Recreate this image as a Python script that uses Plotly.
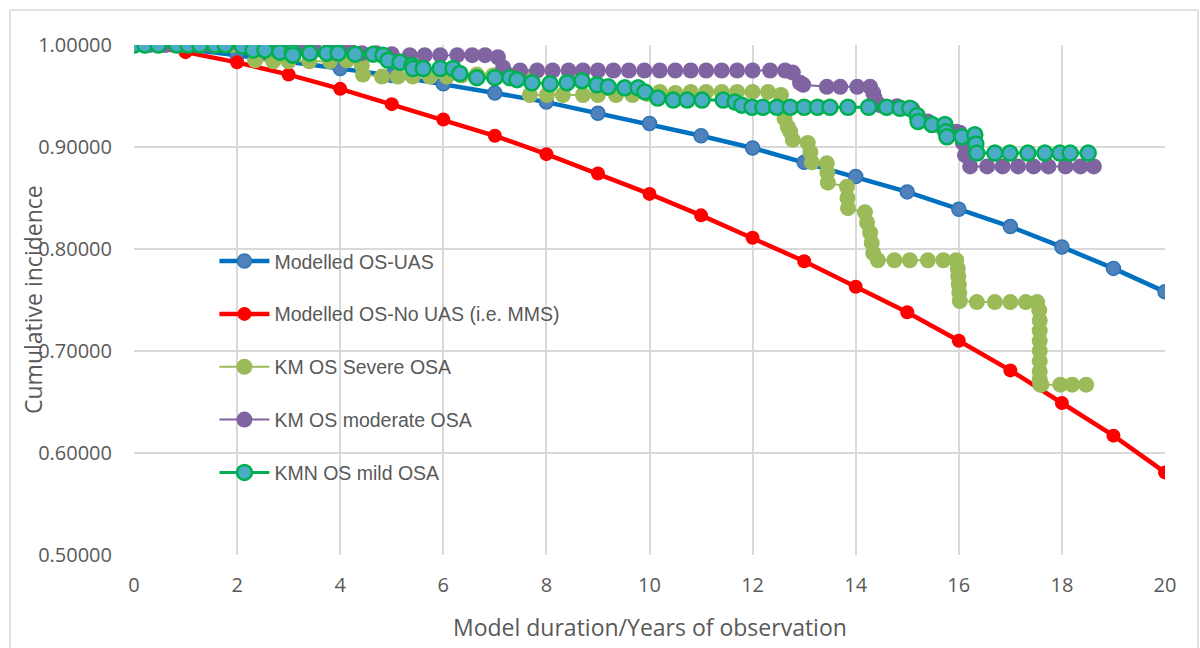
import plotly.graph_objects as go

# ---------------- data ----------------
model_years = list(range(0, 21))
os_uas = [1.0, 0.996, 0.990, 0.984, 0.977, 0.970, 0.962, 0.953, 0.944, 0.933, 0.923,
          0.911, 0.899, 0.885, 0.871, 0.856, 0.839, 0.822, 0.802, 0.781, 0.758]
os_no_uas = [1.0, 0.993, 0.983, 0.971, 0.957, 0.942, 0.927, 0.911, 0.893, 0.874, 0.854,
             0.833, 0.811, 0.788, 0.763, 0.738, 0.710, 0.681, 0.649, 0.617, 0.581]

severe_x = [0, 0.2, 0.5, 0.8, 1.0, 1.3, 1.6, 1.9, 2.25, 2.35, 2.7, 3.0, 3.4, 3.8, 4.13, 4.42,
            4.44, 4.81, 5.12, 5.41, 5.74, 6.07, 6.35, 6.65, 6.96, 7.3, 7.6, 7.68, 8.01, 8.32,
            8.71, 9.0, 9.35, 9.67, 9.96, 10.2, 10.5, 10.8, 11.1, 11.4, 11.7, 12.0, 12.3,
            12.55, 12.62, 12.68, 12.73, 12.78, 13.07, 13.12, 13.15, 13.44, 13.45, 13.46,
            13.83, 13.84, 13.85, 14.18, 14.22, 14.28, 14.31, 14.34, 14.43, 14.75, 15.05,
            15.4, 15.7, 15.95, 15.98, 15.99, 16.0, 16.01, 16.02, 16.35, 16.7, 17.0, 17.3,
            17.52, 17.56, 17.57, 17.57, 17.57, 17.57, 17.57, 17.57, 17.57, 17.58, 17.6,
            17.97, 18.2, 18.47]
severe_y = [1.0, 1.0, 1.0, 1.0, 1.0, 1.0, 1.0, 1.0, 1.0, 0.985, 0.984, 0.984, 0.984, 0.984,
            0.985, 0.980, 0.971, 0.969, 0.969, 0.969, 0.969, 0.969, 0.970, 0.971, 0.970,
            0.970, 0.969, 0.951, 0.951, 0.951, 0.951, 0.951, 0.951, 0.951, 0.952, 0.954,
            0.953, 0.954, 0.954, 0.954, 0.954, 0.954, 0.954, 0.951, 0.928, 0.920, 0.915,
            0.907, 0.904, 0.895, 0.885, 0.884, 0.875, 0.865, 0.861, 0.850, 0.840, 0.836,
            0.826, 0.816, 0.806, 0.796, 0.789, 0.789, 0.789, 0.789, 0.789, 0.789, 0.781,
            0.773, 0.765, 0.757, 0.749, 0.748, 0.748, 0.748, 0.748, 0.748, 0.740, 0.730,
            0.720, 0.710, 0.700, 0.690, 0.680, 0.672, 0.667, 0.667, 0.667, 0.667, 0.667]

moderate_x = [0, 0.3, 0.6, 0.9, 1.2, 1.5, 1.8, 2.1, 2.4, 2.7, 3.0, 3.2, 3.5, 3.8, 4.15, 4.42,
              4.7, 5.0, 5.35, 5.64, 5.94, 6.27, 6.56, 6.81, 7.06, 7.16, 7.49, 7.82, 8.12,
              8.43, 8.71, 9.0, 9.3, 9.6, 9.9, 10.2, 10.5, 10.8, 11.1, 11.4, 11.7, 12.0,
              12.34, 12.63, 12.78, 12.92, 12.98, 13.44, 13.7, 14.03, 14.28, 14.34, 14.37,
              14.47, 14.8, 15.1, 15.4, 15.7, 15.95, 16.02, 16.08, 16.12, 16.22, 16.55,
              16.85, 17.15, 17.45, 17.74, 18.07, 18.36, 18.62]
moderate_y = [1.0, 1.0, 1.0, 1.0, 1.0, 1.0, 1.0, 1.0, 0.998, 0.998, 0.997, 0.997, 0.995,
              0.995, 1.0, 0.992, 0.992, 0.991, 0.990, 0.990, 0.990, 0.990, 0.990, 0.990,
              0.988, 0.978, 0.975, 0.975, 0.975, 0.975, 0.975, 0.975, 0.975, 0.975, 0.975,
              0.975, 0.975, 0.975, 0.975, 0.975, 0.975, 0.975, 0.975, 0.975, 0.973, 0.963,
              0.961, 0.959, 0.959, 0.959, 0.959, 0.953, 0.948, 0.941, 0.940, 0.937, 0.925,
              0.918, 0.915, 0.914, 0.904, 0.892, 0.881, 0.881, 0.881, 0.881, 0.881, 0.881,
              0.881, 0.881, 0.881]

mild_x = [0, 0.21, 0.47, 0.83, 1.05, 1.28, 1.57, 1.77, 2.1, 2.31, 2.54, 2.83, 3.07, 3.08,
          3.41, 3.74, 3.96, 4.29, 4.64, 4.83, 4.93, 5.16, 5.39, 5.41, 5.61, 5.94, 6.19,
          6.32, 6.65, 7.0, 7.29, 7.43, 7.72, 8.07, 8.4, 8.69, 8.98, 9.2, 9.52, 9.78, 9.91,
          10.16, 10.46, 10.73, 11.02, 11.43, 11.66, 11.79, 11.99, 12.2, 12.47, 12.73, 13.0,
          13.26, 13.5, 13.85, 14.25, 14.6, 14.86, 15.05, 15.19, 15.21, 15.48, 15.73, 15.75,
          15.77, 16.06, 16.31, 16.33, 16.35, 16.7, 16.99, 17.34, 17.67, 17.96, 18.16, 18.51]
mild_y = [1.0, 1.0, 1.0, 1.0, 1.0, 1.0, 1.0, 1.0, 0.999, 0.995, 0.995, 0.993, 0.993, 0.990,
          0.992, 0.992, 0.992, 0.991, 0.991, 0.990, 0.985, 0.983, 0.980, 0.977, 0.977,
          0.977, 0.977, 0.972, 0.968, 0.968, 0.968, 0.966, 0.963, 0.962, 0.963, 0.965,
          0.961, 0.959, 0.958, 0.958, 0.954, 0.948, 0.946, 0.946, 0.946, 0.946, 0.944,
          0.941, 0.939, 0.939, 0.939, 0.939, 0.939, 0.939, 0.939, 0.939, 0.939, 0.939,
          0.938, 0.938, 0.931, 0.925, 0.922, 0.922, 0.915, 0.910, 0.910, 0.912, 0.903,
          0.894, 0.894, 0.894, 0.894, 0.894, 0.894, 0.894, 0.894]

x_ticks = list(range(0, 21, 2))
y_ticks = [0.5, 0.6, 0.7, 0.8, 0.9, 1.0]

# ---------------- figure ----------------
fig = go.Figure()

fig.add_trace(go.Scatter(
    x=model_years, y=os_uas, mode="lines+markers", name="Modelled OS-UAS",
    line=dict(color="#0070C0", width=4.5),
    marker=dict(size=14, color="#4F81BD", line=dict(color="#2E75B6", width=1.5)),
    legendgroup="a"))
fig.add_trace(go.Scatter(
    x=model_years, y=os_no_uas, mode="lines+markers", name="Modelled OS-No UAS (i.e. MMS)",
    line=dict(color="#FF0000", width=4.5),
    marker=dict(size=14, color="#FF0000"),
    legendgroup="b"))
fig.add_trace(go.Scatter(
    x=severe_x, y=severe_y, mode="lines+markers", name="KM OS Severe OSA",
    line=dict(color="#9BBB59", width=2),
    marker=dict(size=16, color="#9BBB59"),
    legendgroup="c"))
fig.add_trace(go.Scatter(
    x=moderate_x, y=moderate_y, mode="lines+markers", name="KM OS moderate OSA",
    line=dict(color="#8064A2", width=2),
    marker=dict(size=16, color="#8064A2"),
    legendgroup="d"))
fig.add_trace(go.Scatter(
    x=mild_x, y=mild_y, mode="lines+markers", name="KMN OS mild OSA",
    line=dict(color="#00B050", width=3),
    marker=dict(size=15, color="#4BACC6", line=dict(color="#00B050", width=2.5)),
    legendgroup="e"))

grid = "#D9D9D9"
tickfont = dict(family="Open Sans, Noto Sans, sans-serif", size=20, color="#595959")
titlefont = dict(family="Open Sans, Noto Sans, sans-serif", size=23, color="#595959")

fig.update_xaxes(
    range=[0, 20], tickvals=x_ticks, ticktext=[str(v) for v in x_ticks],
    showgrid=True, gridcolor=grid, gridwidth=1.5, zeroline=False,
    showline=False, ticks="", tickfont=tickfont, ticklabelstandoff=16)
fig.update_yaxes(
    range=[0.5, 1.0], tickvals=y_ticks, tickformat=".5f",
    showgrid=True, gridcolor=grid, gridwidth=1.5, zeroline=False,
    showline=False, ticks="", tickfont=tickfont, ticklabelstandoff=21)

fig.update_layout(
    width=1200, height=648,
    margin=dict(l=134, r=35, t=45, b=93),
    paper_bgcolor="white", plot_bgcolor="white",
    showlegend=True,
    legend=dict(
        x=0.078, y=0.614, xanchor="left", yanchor="top",
        bgcolor="rgba(0,0,0,0)", tracegroupgap=24.5,
        font=dict(family="Liberation Sans, Arial, sans-serif", size=19.5, color="#595959"),
        itemwidth=50),
    annotations=[
        dict(text="Model duration/Years of observation", xref="paper", yref="paper",
             x=0.5, y=-0.141, xanchor="center", yanchor="middle", showarrow=False,
             font=titlefont),
        dict(text="Cumulative incidence", xref="paper", yref="paper",
             x=(33 - 134) / 1031, y=0.5, xanchor="center", yanchor="middle",
             textangle=-90, showarrow=False, font=titlefont),
    ],
    shapes=[
        dict(type="rect", xref="paper", yref="paper",
             x0=(10 - 134) / 1031, x1=(1198 - 134) / 1031,
             y0=-0.25, y1=1 + 35 / 510,
             line=dict(color="#D9D9D9", width=1.5), fillcolor="rgba(0,0,0,0)", layer="below"),
    ],
)

fig.write_html("out.html", post_script="document.body.style.margin='0px';",
               config={"displayModeBar": False})
